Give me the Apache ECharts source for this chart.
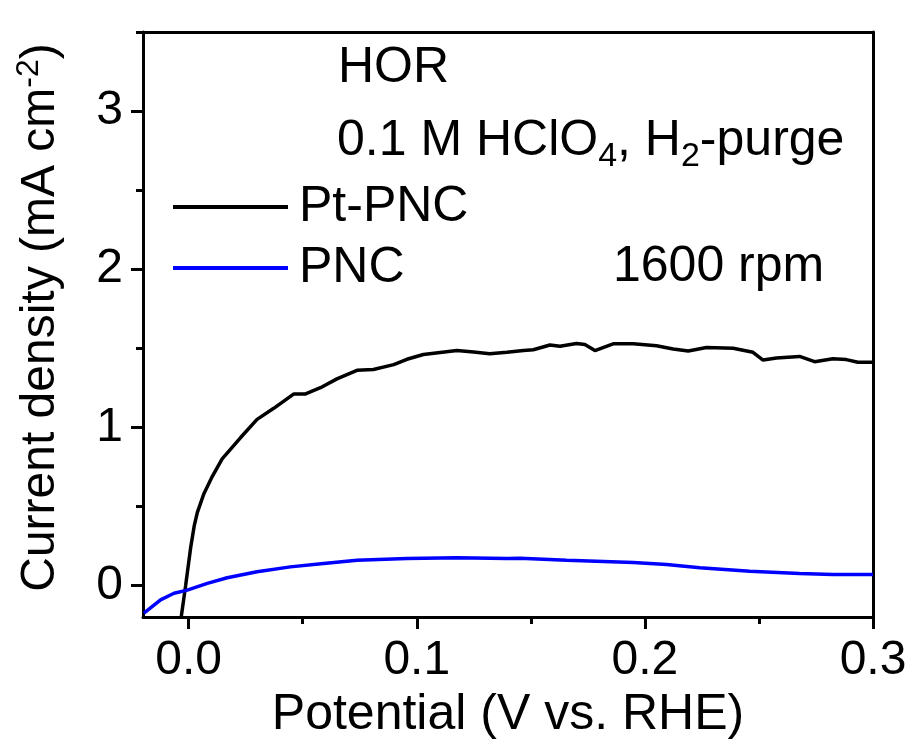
<!DOCTYPE html>
<html>
<head>
<meta charset="utf-8">
<title>HOR polarization curves</title>
<script src="https://cdn.jsdelivr.net/npm/echarts@6/dist/echarts.min.js"></script>
<style>
  html, body { margin: 0; padding: 0; background: #fff; }
  #chart { width: 914px; height: 745px; }
</style>
</head>
<body>
<div id="chart"></div>
<script>
// Potential (V vs. RHE) and current density (mA cm^-2) for each catalyst
const ptPncV = [-0.0032, -0.0013, 0.0009, 0.0025, 0.0038, 0.0067, 0.0104, 0.0147, 0.0228, 0.030, 0.0373, 0.046, 0.051, 0.0578, 0.065, 0.0738, 0.081, 0.0899, 0.0957, 0.1029, 0.1176, 0.1249, 0.132, 0.1395, 0.1468, 0.1511, 0.1584, 0.1628, 0.170, 0.1737, 0.1781, 0.1861, 0.1949, 0.2051, 0.2124, 0.219, 0.227, 0.2387, 0.2474, 0.2518, 0.2577, 0.2678, 0.2744, 0.2824, 0.2883, 0.2934, 0.300];
const ptPncJ = [-0.195, 0.0, 0.24, 0.38, 0.46, 0.58, 0.69, 0.80, 0.935, 1.05, 1.12, 1.21, 1.21, 1.25, 1.306, 1.36, 1.365, 1.396, 1.43, 1.46, 1.486, 1.476, 1.465, 1.475, 1.486, 1.49, 1.52, 1.512, 1.53, 1.523, 1.485, 1.528, 1.528, 1.516, 1.495, 1.482, 1.505, 1.50, 1.474, 1.425, 1.438, 1.448, 1.415, 1.434, 1.428, 1.411, 1.411];

const pncV = [-0.0196, -0.0123, -0.0064, -0.0006, 0.0082, 0.0169, 0.030, 0.0446, 0.0592, 0.0738, 0.0957, 0.1176, 0.1395, 0.1453, 0.1657, 0.1949, 0.2095, 0.2241, 0.246, 0.2678, 0.2824, 0.300];
const pncJ = [-0.176, -0.092, -0.05, -0.03, 0.013, 0.048, 0.086, 0.117, 0.138, 0.159, 0.17, 0.174, 0.17, 0.172, 0.159, 0.145, 0.132, 0.111, 0.09, 0.075, 0.069, 0.069];

const seriesNames = ['Pt-PNC', 'PNC'];
const xMajorTicks = [0, 0.1, 0.2, 0.3];
const xMinorTicks = [0.05, 0.15, 0.25];
const yMajorTicks = [0, 1, 2, 3];
const yMinorTicks = [0.5, 1.5, 2.5, 3.5];

const FONT = '"Liberation Sans", Arial, Helvetica, sans-serif';

const zip = (xs, ys) => xs.map((x, i) => [x, ys[i]]);

const chart = echarts.init(document.getElementById('chart'), null, { renderer: 'canvas' });

const xRange = { min: -0.02, max: 0.3 };
const yRange = { min: -0.2, max: 3.5 };
const lineStyleAxis = { color: '#000', width: 3 };

chart.setOption({
  backgroundColor: '#fff',
  animation: false,
  grid: { left: 143, right: 41, top: 32, bottom: 127, containLabel: false },
  legend: {
    orient: 'vertical',
    left: 173,
    top: 181,
    padding: 0,
    itemWidth: 115,
    itemHeight: 4,
    itemGap: 9,
    icon: 'rect',
    data: seriesNames,
    textStyle: { fontFamily: FONT, fontSize: 50, color: '#000', lineHeight: 52, padding: [0, 0, 0, 6] }
  },
  xAxis: [
    {
      type: 'value', position: 'bottom', ...xRange,
      axisLine: { show: true, onZero: false, lineStyle: lineStyleAxis },
      axisTick: { show: true, inside: false, length: 12, lineStyle: lineStyleAxis, customValues: xMajorTicks },
      axisLabel: { show: true, margin: 20, fontFamily: FONT, fontSize: 48, color: '#000', customValues: xMajorTicks, formatter: v => v.toFixed(1) },
      splitLine: { show: false },
      name: 'Potential (V vs. RHE)',
      nameLocation: 'middle',
      nameGap: 73,
      nameTextStyle: { fontFamily: FONT, fontSize: 50, color: '#000' }
    },
    {
      type: 'value', position: 'bottom', ...xRange,
      axisLine: { show: false, onZero: false },
      axisTick: { show: true, inside: false, length: 7, lineStyle: lineStyleAxis, customValues: xMinorTicks },
      axisLabel: { show: false },
      splitLine: { show: false }
    },
    {
      type: 'value', position: 'top', ...xRange,
      axisLine: { show: true, onZero: false, lineStyle: lineStyleAxis },
      axisTick: { show: false }, axisLabel: { show: false }, splitLine: { show: false }
    }
  ],
  yAxis: [
    {
      type: 'value', position: 'left', ...yRange,
      axisLine: { show: true, onZero: false, lineStyle: lineStyleAxis },
      axisTick: { show: true, inside: false, length: 12, lineStyle: lineStyleAxis, customValues: yMajorTicks },
      axisLabel: { show: true, margin: 20, fontFamily: FONT, fontSize: 48, color: '#000', customValues: yMajorTicks, formatter: v => String(v) },
      splitLine: { show: false },
      name: 'Current density (mA cm{sup|-2})',
      nameLocation: 'middle',
      nameGap: 74,
      nameRotate: 90,
      nameTextStyle: {
        fontFamily: FONT, fontSize: 48, color: '#000', lineHeight: 56,
        padding: [0, 0, 0, 14],
        rich: { sup: { fontFamily: FONT, fontSize: 32, color: '#000', lineHeight: 56, verticalAlign: 'top', padding: [0, 0, 14, 0] } }
      }
    },
    {
      type: 'value', position: 'left', ...yRange,
      axisLine: { show: false, onZero: false },
      axisTick: { show: true, inside: false, length: 7, lineStyle: lineStyleAxis, customValues: yMinorTicks },
      axisLabel: { show: false },
      splitLine: { show: false }
    },
    {
      type: 'value', position: 'right', ...yRange,
      axisLine: { show: true, onZero: false, lineStyle: lineStyleAxis },
      axisTick: { show: false }, axisLabel: { show: false }, splitLine: { show: false }
    }
  ],
  graphic: [
    {
      type: 'text', left: 338, top: 43, silent: true,
      style: { text: 'HOR', font: '50px ' + FONT, fill: '#000' }
    },
    {
      type: 'text', left: 337, top: 108, silent: true,
      style: {
        text: '0.1 M HClO{sub|4}, H{sub|2}-purge',
        font: '50px ' + FONT, fill: '#000', lineHeight: 58,
        rich: { sub: { font: '34px ' + FONT, fill: '#000', lineHeight: 34, padding: [32, 0, 0, 0] } }
      }
    },
    {
      type: 'text', left: 613, top: 242, silent: true,
      style: { text: '1600 rpm', font: '50px ' + FONT, fill: '#000' }
    }
  ],
  series: [
    {
      name: seriesNames[0], type: 'line', xAxisIndex: 0, yAxisIndex: 0,
      data: zip(ptPncV, ptPncJ), showSymbol: false, symbol: 'none', smooth: false,
      clip: true,
      lineStyle: { color: '#000', width: 3.5 }, itemStyle: { color: '#000' }
    },
    {
      name: seriesNames[1], type: 'line', xAxisIndex: 0, yAxisIndex: 0,
      data: zip(pncV, pncJ), showSymbol: false, symbol: 'none', smooth: false,
      clip: true,
      lineStyle: { color: '#0000ff', width: 3.5 }, itemStyle: { color: '#0000ff' }
    }
  ]
});
</script>
</body>
</html>
